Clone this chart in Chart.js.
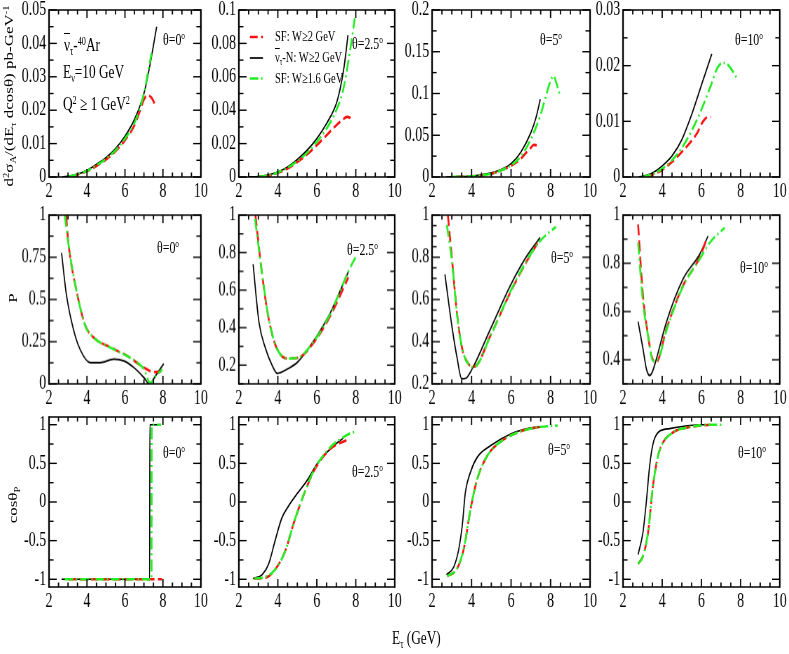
<!DOCTYPE html>
<html>
<head>
<meta charset="utf-8">
<script src="https://cdn.jsdelivr.net/npm/chart.js@4/dist/chart.umd.min.js"></script>
<style>
html, body { margin: 0; padding: 0; background: #fff; overflow: hidden; }
#fig { position: absolute; left: 0; top: 0; width: 1128px; height: 654px; transform: scaleX(0.7); transform-origin: 0 0;
       font-family: "Liberation Serif", "Times New Roman", serif; color: #000; }
#fig canvas { position: absolute; }
.t { position: absolute; white-space: nowrap; line-height: 1; }
.t sup { font-size: 62%; vertical-align: 0; position: relative; top: -0.55em; }
.t sub { font-size: 62%; vertical-align: 0; position: relative; top: 0.35em; }
.bar { text-decoration: overline; }
.rot { transform: translate(-50%, -50%) rotate(-90deg); }
</style>
</head>
<body>
<div id="fig"></div>
<script>
// ---- data ----
const angles = ['0', '2.5', '5', '10'];
const xTicks = [2, 4, 6, 8, 10];

const sigmaTicks = [
    ['0', '0.01', '0.02', '0.03', '0.04', '0.05'],
    ['0', '0.02', '0.04', '0.06', '0.08', '0.1'],
    ['0', '0.05', '0.1', '0.15', '0.2'],
    ['0', '0.01', '0.02', '0.03']
];
const polTicks = [
    ['0', '0.25', '0.5', '0.75', '1'],
    ['0.2', '0.4', '0.6', '0.8', '1'],
    ['0.2', '0.4', '0.6', '0.8', '1'],
    ['0.4', '0.6', '0.8', '1']
];
const polMin = [0, 0.1, 0.2, 0.3];
const cosTicks = ['-1', '-0.5', '0', '0.5', '1'];
const cosRange = [-1.1, 1.1];

// d2sigma / dE dcos  (one entry per angle)
const sigmaSF2 = [
    [[3.2,0],[3.5,0.0007],[4,0.0017],[4.5,0.0033],[5,0.0052],[5.5,0.0077],[6,0.011],[6.5,0.0155],[6.8,0.02],[7,0.0232],[7.2,0.0245],[7.4,0.0237],[7.58,0.0218]],
    [[3.3,0],[3.6,0.0009],[4,0.0025],[4.5,0.005],[5,0.009],[5.5,0.0135],[6,0.019],[6.5,0.025],[7,0.031],[7.3,0.034],[7.55,0.036],[7.7,0.0355],[7.85,0.0335]],
    [[3.2,0],[4,0.0008],[4.5,0.002],[5,0.004],[5.5,0.008],[6,0.0135],[6.5,0.022],[6.8,0.03],[7,0.035],[7.15,0.0385],[7.3,0.038]],
    [[3.2,0],[3.5,0.0004],[4,0.0013],[4.5,0.0027],[5,0.0045],[5.5,0.0065],[5.8,0.008],[6,0.0095],[6.2,0.0105],[6.48,0.0108]]
];
const sigmaNu = [
    [[2.7,0],[3.2,0.0004],[3.6,0.001],[4,0.002],[4.5,0.0038],[5,0.0058],[5.5,0.0085],[6,0.0122],[6.5,0.0172],[7,0.025],[7.3,0.033],[7.67,0.045]],
    [[2.5,0],[3,0.0003],[3.5,0.0012],[4,0.003],[4.5,0.006],[5,0.0105],[5.5,0.016],[6,0.023],[6.5,0.032],[7,0.044],[7.2,0.053],[7.4,0.066],[7.6,0.085]],
    [[2.7,0],[3.5,0.0005],[4,0.001],[4.5,0.0025],[5,0.005],[5.5,0.009],[6,0.016],[6.5,0.03],[7,0.053],[7.25,0.07],[7.48,0.093]],
    [[2.8,0],[3.2,0.0003],[3.5,0.0007],[4,0.002],[4.5,0.0038],[5,0.0067],[5.5,0.0112],[6,0.0165],[6.53,0.0221]]
];
const sigmaSF16 = [
    [[3,0],[3.5,0.0008],[4,0.0018],[4.5,0.0035],[5,0.0054],[5.5,0.008],[6,0.0115],[6.5,0.0162],[7,0.025],[7.2,0.031],[7.4,0.037]],
    [[3,0],[3.5,0.001],[4,0.0027],[4.5,0.0055],[5,0.0095],[5.5,0.0145],[6,0.021],[6.5,0.029],[7,0.04],[7.35,0.052],[7.6,0.068],[7.8,0.083],[7.95,0.095]],
    [[3,0],[4,0.0008],[4.5,0.002],[5,0.004],[5.5,0.008],[6,0.014],[6.5,0.025],[7,0.045],[7.5,0.075],[7.8,0.1],[8,0.115],[8.15,0.121],[8.3,0.112],[8.45,0.1]],
    [[3,0],[3.5,0.0005],[4,0.0015],[4.5,0.003],[5,0.0052],[5.5,0.0083],[6,0.0121],[6.5,0.0166],[6.8,0.0195],[7.08,0.0205],[7.3,0.0203],[7.6,0.019],[7.85,0.0175]]
];

// polarisation P
const polSF2 = [
    [[2.9,1],[3.02,0.836],[3.46,0.546],[3.91,0.346],[4.34,0.276],[5.23,0.216],[6.12,0.166],[7.01,0.096],[7.54,0.07],[7.82,0.072],[8.04,0.096]],
    [[2.85,1],[3.2,0.677],[3.53,0.447],[3.95,0.288],[4.53,0.235],[5.03,0.239],[5.87,0.324],[6.7,0.465],[7.62,0.668]],
    [[2.8,1],[3.02,0.779],[3.27,0.527],[3.52,0.369],[3.86,0.293],[4.12,0.282],[4.97,0.432],[5.98,0.637],[6.83,0.787],[7.34,0.866]],
    [[2.77,0.961],[3.02,0.665],[3.28,0.5],[3.45,0.417],[3.7,0.39],[4.21,0.527],[5.06,0.707],[5.91,0.824],[6.26,0.9]]
];
const polNu = [
    [[2.66,0.776],[2.92,0.526],[3.28,0.326],[3.63,0.206],[4.17,0.126],[4.7,0.126],[5.41,0.146],[5.94,0.136],[6.48,0.096],[7.01,0.036],[7.28,0],[7.62,0.05],[8.04,0.12]],
    [[2.73,0.738],[3.03,0.43],[3.37,0.288],[3.7,0.2],[3.97,0.156],[4.53,0.182],[5.03,0.218],[6.03,0.36],[6.7,0.48],[7.62,0.698]],
    [[2.65,0.719],[3.02,0.463],[3.27,0.321],[3.5,0.224],[3.69,0.226],[4.03,0.271],[4.97,0.463],[5.98,0.669],[6.83,0.811],[7.47,0.893]],
    [[2.77,0.558],[3.02,0.445],[3.2,0.36],[3.36,0.335],[3.5,0.35],[3.7,0.403],[4.21,0.555],[5.06,0.734],[5.91,0.837],[6.34,0.913]]
];
const polSF16 = [
    [[2.83,1],[3.02,0.83],[3.46,0.545],[3.91,0.345],[4.34,0.275],[5.23,0.215],[6.12,0.165],[6.77,0.115],[7.01,0.085],[7.33,0.005],[7.62,0.045],[7.96,0.086]],
    [[2.83,0.98],[3.2,0.68],[3.53,0.45],[3.95,0.29],[4.53,0.235],[5.03,0.24],[5.87,0.33],[6.7,0.475],[7.62,0.7],[8.03,0.783]],
    [[2.75,0.953],[3.02,0.77],[3.27,0.525],[3.52,0.37],[3.86,0.29],[4.12,0.28],[4.97,0.43],[5.98,0.64],[6.83,0.79],[7.4,0.87],[8.27,0.945]],
    [[2.77,0.886],[3.02,0.638],[3.28,0.5],[3.53,0.396],[3.79,0.403],[4.21,0.52],[5.06,0.704],[5.91,0.817],[6.43,0.886],[7.19,0.948]]
];

// cos(theta_P)
const cosSF2 = [
    [[3.02,-1],[7.95,-1]],
    [[2.78,-0.99],[3.37,-0.98],[3.87,-0.87],[4.37,-0.64],[4.87,-0.23],[5.37,0.12],[5.87,0.41],[6.7,0.69],[7.53,0.8]],
    [[2.76,-0.96],[3.27,-0.86],[3.61,-0.6],[3.95,-0.09],[4.29,0.3],[4.8,0.6],[5.47,0.78],[6.32,0.9],[7,0.95],[7.42,0.97]],
    [[2.77,-0.8],[3.02,-0.7],[3.28,-0.39],[3.53,0.21],[3.79,0.6],[4.04,0.77],[4.55,0.9],[5.4,0.97],[6.43,1]]
];
const cosNu = [
    [[2.66,-1],[7.3,-1],[7.31,1],[7.9,1]],
    [[2.73,-0.99],[3.2,-0.94],[3.53,-0.8],[3.87,-0.49],[4.2,-0.21],[4.53,-0.06],[5.03,0.12],[5.53,0.29],[6.03,0.5],[6.7,0.69],[7.37,0.83]],
    [[2.73,-0.94],[3.1,-0.84],[3.36,-0.6],[3.53,-0.3],[3.69,0.13],[3.95,0.39],[4.29,0.58],[4.97,0.73],[5.98,0.88],[7,0.96],[7.47,0.97]],
    [[2.77,-0.68],[3.02,-0.39],[3.19,0],[3.36,0.47],[3.53,0.75],[3.79,0.9],[4.38,0.95],[5.4,0.99],[6.08,1],[6.43,1]]
];
const cosSF16 = [
    [[2.83,-1],[7.4,-1],[7.41,1],[7.9,1]],
    [[2.8,-0.99],[3.37,-0.97],[3.87,-0.87],[4.37,-0.64],[4.87,-0.23],[5.37,0.12],[5.87,0.42],[6.7,0.71],[7.5,0.86],[7.95,0.91]],
    [[2.76,-0.96],[3.27,-0.86],[3.61,-0.6],[3.95,-0.09],[4.29,0.3],[4.8,0.6],[5.47,0.78],[6.32,0.9],[7,0.95],[7.42,0.97],[8.36,0.99]],
    [[2.77,-0.8],[3.02,-0.7],[3.28,-0.39],[3.53,0.21],[3.79,0.6],[4.04,0.77],[4.55,0.9],[5.4,0.97],[6.43,1],[7.1,1]]
];

// ---- layout (page pixels) ----
const S = 0.7;                       // horizontal squeeze of the whole figure
const colL = [49, 239, 432, 623], colR = [201, 395, 590, 780];
const rowT = [9.5, 215, 417], rowB = [177.3, 383.5, 587.3];
const YW = 70, PT = 16, PR = 22, XH = 32;
const thetaPos = [
    [[163, 31], [352, 35], [540, 31], [735, 31]],
    [[157, 239], [347, 241], [551, 249], [740, 259]],
    [[163, 444], [352, 463], [548, 441], [738, 444]]
];

const fig = document.getElementById('fig');
Chart.defaults.font.family = '"Liberation Serif", "Times New Roman", serif';
Chart.defaults.color = '#000';

const RED = { color: '#ff1010', width: 2.6, dash: [11, 5] };
const BLACK = { color: '#000000', width: 1.7, dash: [] };
const GREEN = { color: '#22ee22', width: 2.6, dash: [12, 4, 2, 4] };

// frame with inward ticks on all four sides
const framePlugin = {
    id: 'frame',
    afterDatasetsDraw(chart, args, o) {
        const { ctx, chartArea: a } = chart;
        const xs = chart.scales.x, ys = chart.scales.y;
        const seg = (x1, y1, x2, y2, w) => {
            ctx.lineWidth = w;
            ctx.beginPath(); ctx.moveTo(x1, y1); ctx.lineTo(x2, y2); ctx.stroke();
        };
        ctx.save();
        ctx.strokeStyle = '#000';
        const nx = Math.round((xs.max - xs.min) / o.xMinor);
        for (let k = 0; k <= nx; k++) {
            const v = xs.min + k * o.xMinor;
            const p = xs.getPixelForValue(v);
            const len = Math.abs(v / 2 - Math.round(v / 2)) < 1e-6 ? 8 : 4.5;
            seg(p, a.bottom, p, a.bottom - len, 1.8);
            seg(p, a.top, p, a.top + len, 1.8);
        }
        const k0 = Math.ceil(ys.min / o.yMinor - 1e-6), k1 = Math.floor(ys.max / o.yMinor + 1e-6);
        for (let k = k0; k <= k1; k++) {
            const v = k * o.yMinor;
            const p = ys.getPixelForValue(v);
            const major = o.yMajor.some(m => Math.abs(m - v) < 1e-7);
            const len = major ? 11 : 6.5;
            seg(a.left, p, a.left + len, p, 1.4);
            seg(a.right, p, a.right - len, p, 1.4);
        }
        seg(a.left, a.top, a.right, a.top, 1.6);
        seg(a.left, a.bottom, a.right, a.bottom, 1.6);
        seg(a.left, a.top - 0.8, a.left, a.bottom + 0.8, 2.3);
        seg(a.right, a.top - 0.8, a.right, a.bottom + 0.8, 2.3);
        ctx.restore();
    }
};

// short line samples of the legend (panel theta=2.5, top row)
const samplePlugin = {
    id: 'samples',
    afterDraw(chart) {
        const { ctx, chartArea: a } = chart;
        const items = [[RED, 36.5], [BLACK, 57.5], [GREEN, 78]];
        ctx.save();
        items.forEach(([st, oy]) => {
            const x0 = a.left + (250 - colL[1]) / S, x1 = a.left + (263 - colL[1]) / S;
            const y = a.top + oy - rowT[0];
            ctx.strokeStyle = st.color;
            ctx.lineWidth = st.width;
            ctx.setLineDash(st.dash);
            ctx.beginPath(); ctx.moveTo(x0, y); ctx.lineTo(x1, y); ctx.stroke();
        });
        ctx.restore();
    }
};

function ds(points, st) {
    return {
        data: points.map(([x, y]) => ({ x, y })),
        borderColor: st.color,
        borderWidth: st.width,
        borderDash: st.dash,
        pointRadius: 0,
        fill: false,
        cubicInterpolationMode: 'monotone'
    };
}

function makePanel(r, c, red, black, green, labels, yMin, yMax, yMinor) {
    const w = (colR[c] - colL[c]) / S + YW + PR;
    const h = rowB[r] - rowT[r] + PT + XH;
    const cv = document.createElement('canvas');
    cv.width = w; cv.height = h;
    cv.style.width = w + 'px'; cv.style.height = h + 'px';
    cv.style.left = (colL[c] / S - YW) + 'px';
    cv.style.top = (rowT[r] - PT) + 'px';
    fig.appendChild(cv);
    const yVals = labels.map(Number);
    const tickFont = { family: '"Liberation Serif", "Times New Roman", serif', size: 20 };
    new Chart(cv, {
        type: 'line',
        data: { datasets: [ds(green, GREEN), ds(red, RED), ds(black, BLACK)] },
        options: {
            responsive: false,
            animation: false,
            devicePixelRatio: 1,
            events: [],
            layout: { padding: { top: PT, right: PR, left: 0, bottom: 0 } },
            plugins: {
                legend: { display: false },
                tooltip: { enabled: false },
                frame: { xMinor: 0.5, yMinor: yMinor, yMajor: yVals }
            },
            scales: {
                x: {
                    type: 'linear', min: 2, max: 10,
                    afterBuildTicks: s => { s.ticks = xTicks.map(v => ({ value: v })); },
                    afterFit: s => { s.height = XH; },
                    grid: { display: false, drawTicks: false },
                    border: { display: false },
                    ticks: { font: tickFont, color: '#000', padding: 3, maxRotation: 0, minRotation: 0, autoSkip: false,
                             callback: v => String(v) }
                },
                y: {
                    type: 'linear', min: yMin, max: yMax,
                    afterBuildTicks: s => { s.ticks = yVals.map(v => ({ value: v })); },
                    afterFit: s => { s.width = YW; },
                    grid: { display: false, drawTicks: false },
                    border: { display: false },
                    ticks: { font: tickFont, color: '#000', padding: 4, autoSkip: false,
                             callback: (v, i) => labels[i] }
                }
            }
        },
        plugins: (r === 0 && c === 1) ? [framePlugin, samplePlugin] : [framePlugin]
    });
}

const sigmaMinor = [0.005, 0.01, 0.025, 0.005];
const polMinor = [0.125, 0.1, 0.05, 0.1];
for (let c = 0; c < 4; c++) {
    makePanel(0, c, sigmaSF2[c], sigmaNu[c], sigmaSF16[c], sigmaTicks[c], 0,
              Number(sigmaTicks[c][sigmaTicks[c].length - 1]), sigmaMinor[c]);
    makePanel(1, c, polSF2[c], polNu[c], polSF16[c], polTicks[c], polMin[c], 1, polMinor[c]);
    makePanel(2, c, cosSF2[c], cosNu[c], cosSF16[c], cosTicks, cosRange[0], cosRange[1], 0.25);
}

// ---- texts ----
function addText(html, x, y, size, cls) {
    const d = document.createElement('div');
    d.className = 't' + (cls ? ' ' + cls : '');
    d.innerHTML = html;
    d.style.left = (x / S) + 'px';
    d.style.top = y + 'px';
    d.style.fontSize = size + 'px';
    fig.appendChild(d);
    return d;
}

for (let r = 0; r < 3; r++) {
    for (let c = 0; c < 4; c++) {
        const [x, y] = thetaPos[r][c];
        addText('θ=' + angles[c] + '<sup>o</sup>', x, y, 17);
    }
}

addText('<span class="bar">ν</span><sub>τ</sub>-<sup>40</sup>Ar', 64, 35, 19);
addText('E<sub>ν</sub>=10 GeV', 63, 62, 19);
addText('Q<sup>2</sup> ≥ 1 GeV<sup>2</sup>', 63, 94, 19);

addText('SF: W≥2 GeV', 275, 29, 15);
addText('<span class="bar">ν</span><sub>τ</sub>-N: W≥2 GeV', 275, 50, 15);
addText('SF: W≥1.6 GeV', 275, 71, 15);

addText('d<sup>2</sup>σ<sub>A</sub>/(dE<sub>τ</sub> dcosθ) pb-GeV<sup>-1</sup>', 9, 96, 17, 'rot');
addText('P', 13, 298, 17, 'rot');
addText('cosθ<sub>P</sub>', 13, 505, 17, 'rot');
addText('E<sub>τ</sub> (GeV)', 392, 628, 19);
</script>
</body>
</html>
